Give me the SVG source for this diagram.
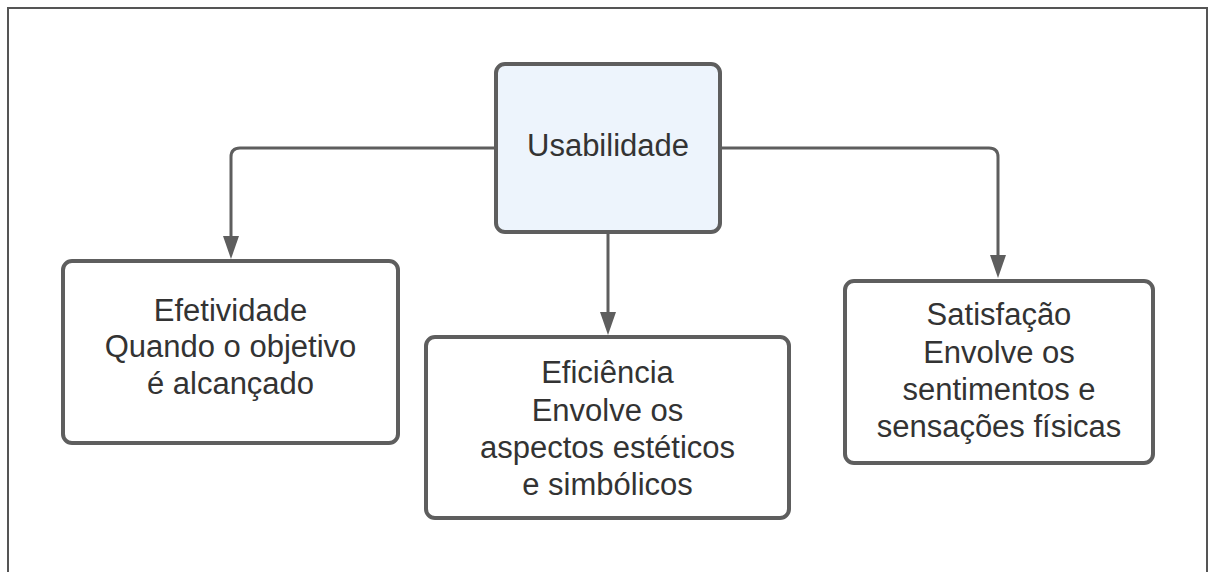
<svg xmlns="http://www.w3.org/2000/svg" width="1210" height="572" viewBox="0 0 1210 572">
<defs>
<style>
.node rect{fill:#ffffff;stroke:#5e5e5e;stroke-width:4}
#usabilidade rect{fill:#edf4fc}
.node text{font-family:"Liberation Sans",Arial,sans-serif;font-size:31px;fill:#333333;text-anchor:middle}
.conn{fill:none;stroke:#5e5e5e;stroke-width:3}
</style>
<marker id="arrow" viewBox="0 0 16 24" refX="8" refY="24" markerWidth="16" markerHeight="24" markerUnits="userSpaceOnUse" orient="auto-start-reverse">
<path d="M0,0 L16,0 L8,24 Z" fill="#5e5e5e"/>
</marker>
</defs>
<rect width="1210" height="572" fill="#ffffff"/>
<path d="M8,580 V8 H1207 V580" fill="none" stroke="#555555" stroke-width="2"/>
<g id="connectors">
<path class="conn" d="M496,148 H240 Q231,148 231,157 V236"/>
<path d="M223,236 H239 L231,259 Z" fill="#5e5e5e"/>
<path class="conn" d="M608,232 V312"/>
<path d="M600,312 H616 L608,335 Z" fill="#5e5e5e"/>
<path class="conn" d="M720,148 H989 Q998,148 998,157 V255"/>
<path d="M990,255 H1006 L998,278 Z" fill="#5e5e5e"/>
</g>
<g id="usabilidade" class="node">
<rect x="496" y="64" width="224" height="168" rx="9"/>
<text x="608" y="156">Usabilidade</text>
</g>
<g id="efetividade" class="node">
<rect x="63" y="261" width="335" height="182" rx="9"/>
<text x="230.5" y="321">Efetividade</text>
<text x="230.5" y="357">Quando o objetivo</text>
<text x="230.5" y="394">é alcançado</text>
</g>
<g id="eficiencia" class="node">
<rect x="426" y="337" width="363" height="181" rx="9"/>
<text x="607.5" y="383">Eficiência</text>
<text x="607.5" y="421">Envolve os</text>
<text x="607.5" y="458">aspectos estéticos</text>
<text x="607.5" y="495">e simbólicos</text>
</g>
<g id="satisfacao" class="node">
<rect x="845" y="281" width="308" height="182" rx="9"/>
<text x="999" y="325">Satisfação</text>
<text x="999" y="363">Envolve os</text>
<text x="999" y="400">sentimentos e</text>
<text x="999" y="437">sensações físicas</text>
</g>
</svg>
